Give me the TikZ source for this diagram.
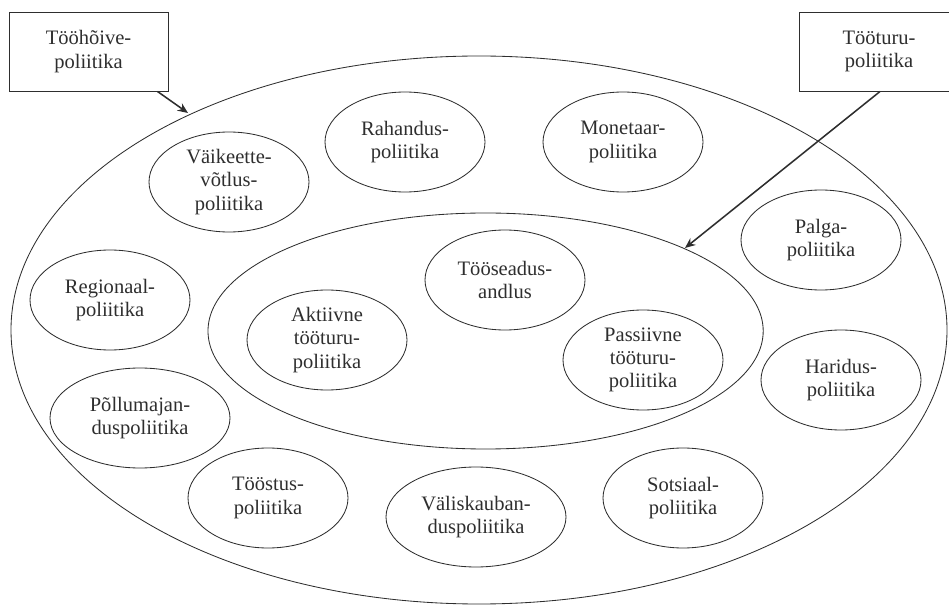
\documentclass[tikz,border=0pt]{standalone}
\usepackage{fontspec}
\setmainfont{Liberation Serif}
\usepackage{tikz}
\usepackage{xcolor}
\usetikzlibrary{positioning,arrows.meta,shapes.geometric}
\definecolor{ink}{HTML}{2E2E2E}

\begin{document}
\begin{tikzpicture}[
  every node/.style={font=\fontsize{14.6}{16.6}\selectfont, text=ink},
  pol/.style={
    ellipse, draw=ink, line width=0.6pt,
    minimum width=4cm, minimum height=2.5cm, align=center,
    inner sep=0pt
  },
  tbox/.style={
    rectangle, draw=ink, line width=0.7pt,
    minimum height=1.975cm, align=center, inner sep=2pt
  },
  arrowline/.style={->, >={Stealth[length=2.6mm,width=2.2mm]}, draw=ink, line width=1.1pt}
]
\useasboundingbox (0,0) rectangle (23.725,15.15);

% Outer and inner areas
\draw[draw=ink, line width=0.6pt] (11.975,6.9) ellipse [x radius=11.7, y radius=6.85];
\draw[draw=ink, line width=0.6pt] (12.14,6.875) ellipse [x radius=6.94, y radius=2.95];

% Labels (right one runs off the page edge)
\node[tbox, minimum width=3.975cm] (hoive) at (2.2125,13.8625) {Tööhõive-\\poliitika};
\node[tbox, minimum width=4.0cm] (tooturu) at (21.975,13.8625) {Tööturu-\\poliitika};

% Policies in the outer area
\node[pol] (vaike)  at (5.725,10.6)  {Väikeette-\\võtlus-\\poliitika};
\node[pol] (rahan)  at (10.125,11.6) {Rahandus-\\poliitika};
\node[pol] (monet)  at (15.575,11.6) {Monetaar-\\poliitika};
\node[pol] (palga)  at (20.525,9.15) {Palga-\\poliitika};
\node[pol] (region) at (2.75,7.65)   {Regionaal-\\poliitika};
\node[pol] (harid)  at (21.025,5.65) {Haridus-\\poliitika};
\node[pol, minimum width=4.5cm] (pollu) at (3.5,4.7) {Põllumajan-\\duspoliitika};
\node[pol] (toost)  at (6.7,2.7)     {Tööstus-\\poliitika};
\node[pol, minimum width=4.5cm] (valis) at (11.9,2.225) {Väliskauban-\\duspoliitika};
\node[pol] (sotsi)  at (17.075,2.7)  {Sotsiaal-\\poliitika};

% Policies in the inner area
\node[pol] (seadus) at (12.625,8.15) {Tööseadus-\\andlus};
\node[pol] (aktiiv) at (8.175,6.65)  {Aktiivne\\tööturu-\\poliitika};
\node[pol] (passiiv) at (16.075,6.15) {Passiivne\\tööturu-\\poliitika};

% Arrows
\coordinate (outerhit) at (4.7,12.325);
\coordinate (innerhit) at (17.125,8.95);
\draw[arrowline] ([xshift=-0.275cm]hoive.south east) -- (outerhit);
\draw[arrowline] ([xshift=0.025cm]tooturu.south) -- (innerhit);

\end{tikzpicture}
\end{document}
